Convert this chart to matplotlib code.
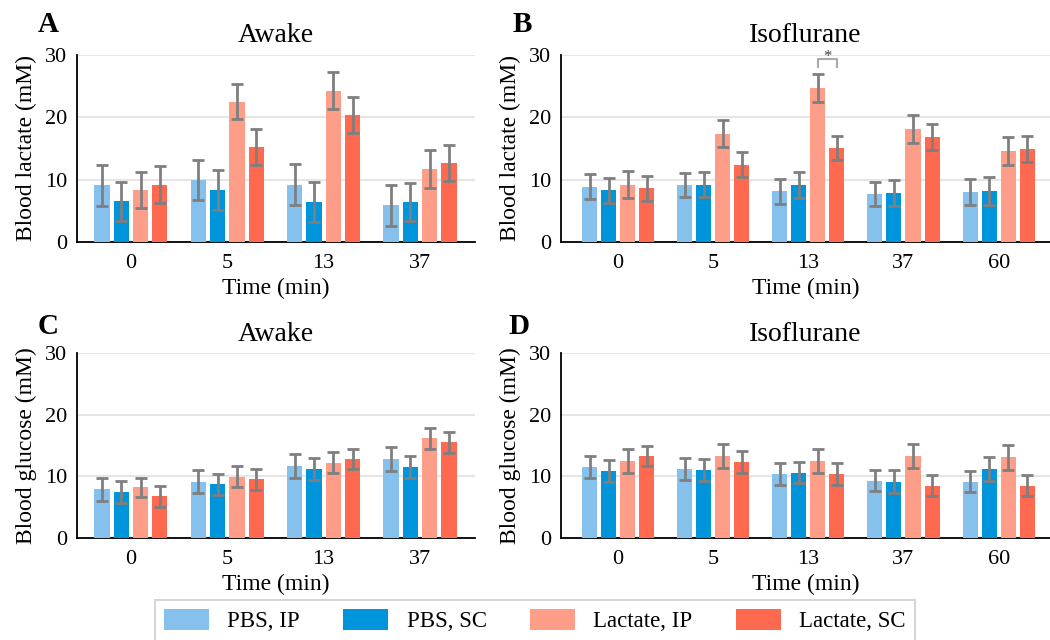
import numpy as np
import matplotlib
matplotlib.use('Agg')
from matplotlib import pyplot as plt
from matplotlib.patches import Patch

plt.rcParams['font.family'] = ['Liberation Serif', 'DejaVu Serif']

series = ['PBS, IP', 'PBS, SC', 'Lactate, IP', 'Lactate, SC']
colors = ['#85c1ec', '#0095da', '#ff9e88', '#ff6950']

times_awake = ['0', '5', '13', '37']
times_iso = ['0', '5', '13', '37', '60']

# blood lactate, awake (mean, error)
lac_awake = [[9.1, 10.0, 9.2, 5.9],
             [6.5, 8.4, 6.35, 6.4],
             [8.3, 22.5, 24.3, 11.7],
             [9.2, 15.3, 20.4, 12.7]]
lac_awake_err = [[3.3, 3.2, 3.3, 3.3],
                 [3.2, 3.2, 3.2, 3.1],
                 [2.9, 2.85, 3.0, 3.0],
                 [3.0, 2.9, 2.9, 2.9]]

# blood lactate, isoflurane
lac_iso = [[8.9, 9.1, 8.1, 7.7, 8.0],
           [8.3, 9.2, 9.1, 7.85, 8.2],
           [9.2, 17.4, 24.7, 18.1, 14.6],
           [8.6, 12.4, 15.1, 16.8, 14.9]]
lac_iso_err = [[1.95, 1.95, 1.95, 1.95, 2.05],
               [2.0, 2.0, 2.05, 2.1, 2.3],
               [2.2, 2.2, 2.2, 2.25, 2.2],
               [2.0, 2.0, 1.95, 2.05, 2.05]]

# blood glucose, awake
glu_awake = [[7.9, 9.15, 11.7, 12.8],
             [7.4, 8.7, 11.2, 11.55],
             [8.2, 9.95, 12.2, 16.2],
             [6.75, 9.5, 12.8, 15.5]]
glu_awake_err = [[1.85, 1.85, 1.9, 1.9],
                 [1.8, 1.75, 1.8, 1.8],
                 [1.6, 1.65, 1.7, 1.7],
                 [1.7, 1.7, 1.65, 1.7]]

# blood glucose, isoflurane
glu_iso = [[11.55, 11.2, 10.4, 9.3, 9.15],
           [10.9, 11.0, 10.6, 9.15, 11.2],
           [12.5, 13.3, 12.5, 13.3, 13.1],
           [13.3, 12.35, 10.4, 8.5, 8.5]]
glu_iso_err = [[1.75, 1.75, 1.75, 1.75, 1.75],
               [1.75, 1.8, 1.75, 1.8, 1.95],
               [2.0, 2.0, 2.0, 2.0, 2.0],
               [1.7, 1.75, 1.75, 1.75, 1.75]]


def draw_panel(ax, labels, values, errors, title, ylabel):
    x = np.arange(len(labels))
    step = 0.2
    for k in range(len(series)):
        ax.bar(x + (k - 1.5) * step, values[k], width=0.158, color=colors[k],
               yerr=errors[k], ecolor='#7f7f7f',
               error_kw=dict(elinewidth=2, capsize=4, capthick=2), zorder=3)
    ax.set_ylim(0, 30)
    ax.set_yticks([0, 10, 20, 30])
    ax.set_xticks(x)
    ax.set_xticklabels(labels)
    if len(labels) == 5:
        ax.set_xlim(-0.6, 4.54)
    else:
        ax.set_xlim(-0.56, 3.57)
    ax.grid(axis='y', color='#e6e6e6', linewidth=1.5, zorder=0)
    ax.set_axisbelow(True)
    for s in ['top', 'right']:
        ax.spines[s].set_visible(False)
    ax.spines['left'].set_linewidth(1.3)
    ax.spines['bottom'].set_linewidth(1.3)
    ax.tick_params(axis='x', length=0, labelsize=16, pad=9)
    ax.tick_params(axis='y', length=0, labelsize=16, pad=7)
    ax.set_title(title, fontsize=20, pad=9)
    ax.set_ylabel(ylabel, fontsize=17, labelpad=6)
    ax.set_xlabel('Time (min)', fontsize=17, labelpad=3)


fig = plt.figure(figsize=(10.5, 6.4), dpi=100)
axA = fig.add_axes([0.0733, 0.6219, 0.379, 0.2922])
axB = fig.add_axes([0.5343, 0.6219, 0.4657, 0.2922])
axC = fig.add_axes([0.0733, 0.1594, 0.379, 0.289])
axD = fig.add_axes([0.5343, 0.1594, 0.4657, 0.289])

draw_panel(axA, times_awake, lac_awake, lac_awake_err, 'Awake', 'Blood lactate (mM)')
draw_panel(axB, times_iso, lac_iso, lac_iso_err, 'Isoflurane', 'Blood lactate (mM)')
draw_panel(axC, times_awake, glu_awake, glu_awake_err, 'Awake', 'Blood glucose (mM)')
draw_panel(axD, times_iso, glu_iso, glu_iso_err, 'Isoflurane', 'Blood glucose (mM)')

# panel letters
fig.text(0.036, 0.962, 'A', fontsize=21, fontweight='bold', ha='left', va='center')
fig.text(0.488, 0.962, 'B', fontsize=21, fontweight='bold', ha='left', va='center')
fig.text(0.036, 0.49, 'C', fontsize=21, fontweight='bold', ha='left', va='center')
fig.text(0.484, 0.49, 'D', fontsize=21, fontweight='bold', ha='left', va='center')

# significance bracket at 13 min, isoflurane
x1, x2 = 2 + 0.1, 2 + 0.3
axB.plot([x1, x1, x2, x2], [28.0, 29.3, 29.3, 28.0], color='#aaaaaa',
         linewidth=1.5, clip_on=False, zorder=4)
axB.text((x1 + x2) / 2, 29.75, '*', ha='center', va='center', fontsize=12,
         color='#444444')

handles = [Patch(facecolor=c, edgecolor='none') for c in colors]
leg = fig.legend(handles, series, loc='upper center', bbox_to_anchor=(0.5095, 0.0625),
                 ncol=4, fontsize=16.5, frameon=True, fancybox=False,
                 handlelength=1.96, handleheight=1.0, columnspacing=1.9,
                 handletextpad=0.8, borderpad=0.4, borderaxespad=0)
leg.get_frame().set_edgecolor('#cccccc')
leg.get_frame().set_linewidth(1.5)

fig.savefig('out.png', dpi=100)
